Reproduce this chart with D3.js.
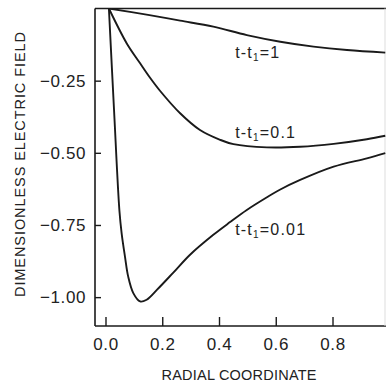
<!DOCTYPE html>
<html>
<head>
<meta charset="utf-8">
<script src="https://cdn.jsdelivr.net/npm/d3@7"></script>
<style>
  body { margin: 0; background: #fff; }
  text { font-family: "Liberation Sans", Arial, sans-serif; fill: #222; }
</style>
</head>
<body>
<script>
// t - t1 = 1
var r1 = [0.012, 0.15, 0.263, 0.38, 0.498, 0.616, 0.733, 0.851, 0.986];
var e1 = [0, -0.022, -0.042, -0.063, -0.092, -0.115, -0.132, -0.144, -0.153];

// t - t1 = 0.1
var r01 = [0.012, 0.075, 0.122, 0.157, 0.192, 0.263, 0.333, 0.404, 0.451, 0.569, 0.686, 0.804, 0.921, 0.986];
var e01 = [0, -0.121, -0.19, -0.24, -0.285, -0.363, -0.421, -0.455, -0.47, -0.481, -0.479, -0.469, -0.453, -0.441];

// t - t1 = 0.01
var r001 = [0.012, 0.03, 0.049, 0.057, 0.069, 0.08, 0.098, 0.122, 0.145, 0.181, 0.239, 0.298, 0.38, 0.439, 0.498, 0.569, 0.616, 0.686, 0.804, 0.921, 0.986];
var e001 = [0, -0.35, -0.7, -0.78, -0.862, -0.929, -0.986, -1.015, -1.009, -0.975, -0.915, -0.853, -0.784, -0.74, -0.698, -0.654, -0.627, -0.594, -0.548, -0.519, -0.501];

var labelTimes = ["1", "0.1", "0.01"];
var xTicks = [0, 0.2, 0.4, 0.6, 0.8];
var yTicks = [-0.25, -0.5, -0.75, -1.0];

var w = 386;
var h = 385;

var svg = d3.select("body")
    .append("svg")
    .attr("width", w)
    .attr("height", h);

var x = d3.scaleLinear().domain([-0.037, 0.985]).range([95, 385]);
var y = d3.scaleLinear().domain([0, -1.1]).range([8.5, 326]);

// frame
svg.append("line").attr("x1", x(-0.037)).attr("x2", x(-0.037)).attr("y1", y(0)).attr("y2", y(-1.1))
    .attr("stroke", "#1a1a1a").attr("stroke-width", 1.6);
svg.append("line").attr("x1", x(-0.037)).attr("x2", w).attr("y1", y(0)).attr("y2", y(0))
    .attr("stroke", "#1a1a1a").attr("stroke-width", 1.4);
svg.append("line").attr("x1", x(-0.037)).attr("x2", w).attr("y1", y(-1.1)).attr("y2", y(-1.1))
    .attr("stroke", "#1a1a1a").attr("stroke-width", 1.6);
svg.append("line").attr("x1", x(0.985)).attr("x2", x(0.985)).attr("y1", y(0)).attr("y2", y(-1.1))
    .attr("stroke", "#ddd").attr("stroke-width", 1);

// axes, ticks pointing inwards
var xAxis = d3.axisBottom(x)
    .tickValues(xTicks)
    .tickFormat(d3.format(".1f"))
    .tickSizeInner(-9)
    .tickSizeOuter(0)
    .tickPadding(12);

var yAxis = d3.axisLeft(y)
    .tickValues(yTicks)
    .tickFormat(d3.format(".2f"))
    .tickSizeInner(-6)
    .tickSizeOuter(0)
    .tickPadding(9);

var gx = svg.append("g").attr("transform", "translate(0," + y(-1.1) + ")").call(xAxis);
var gy = svg.append("g").attr("transform", "translate(" + x(-0.037) + ",0)").call(yAxis);

[gx, gy].forEach(function(g) {
    g.select(".domain").remove();
    g.selectAll(".tick line").attr("stroke", "#1a1a1a").attr("stroke-width", 1.4);
    g.selectAll(".tick text")
        .attr("font-size", 17)
        .attr("font-family", "Liberation Sans, Arial, sans-serif")
        .attr("fill", "#222")
        .style("letter-spacing", "0.6px");
});

// curves
var line = d3.line()
    .x(function(d) { return x(d[0]); })
    .y(function(d) { return y(d[1]); })
    .curve(d3.curveCatmullRom.alpha(0.5));

var series = [d3.zip(r1, e1), d3.zip(r01, e01), d3.zip(r001, e001)];

svg.append("defs").append("clipPath").attr("id", "plot")
    .append("rect")
    .attr("x", x(-0.037)).attr("y", y(0))
    .attr("width", w - x(-0.037)).attr("height", y(-1.1) - y(0));

svg.append("g").attr("clip-path", "url(#plot)")
    .selectAll("path")
    .data(series)
    .enter()
    .append("path")
    .attr("d", line)
    .attr("fill", "none")
    .attr("stroke", "#1a1a1a")
    .attr("stroke-width", 1.9);

// curve labels
var labelPos = [[0.457, -0.171], [0.457, -0.448], [0.457, -0.783]];

svg.selectAll("text.curve")
    .data(labelTimes)
    .enter()
    .append("text")
    .attr("class", "curve")
    .attr("x", function(d, i) { return x(labelPos[i][0]); })
    .attr("y", function(d, i) { return y(labelPos[i][1]); })
    .attr("font-size", 16)
    .style("letter-spacing", "1.2px")
    .each(function(d) {
        var t = d3.select(this);
        t.append("tspan").text("t-t");
        t.append("tspan").attr("font-size", 10).attr("dy", 3).text("1");
        t.append("tspan").attr("dy", -3).text("=" + d);
    });

// axis titles
svg.append("text")
    .attr("x", 239)
    .attr("y", 380)
    .attr("text-anchor", "middle")
    .attr("font-size", 14.5)
    .attr("textLength", 155)
    .attr("lengthAdjust", "spacing")
    .text("RADIAL COORDINATE");

svg.append("text")
    .attr("transform", "translate(24.5,164.5) rotate(-90)")
    .attr("text-anchor", "middle")
    .attr("font-size", 14.5)
    .attr("textLength", 265)
    .attr("lengthAdjust", "spacing")
    .text("DIMENSIONLESS ELECTRIC FIELD");
</script>
</body>
</html>
